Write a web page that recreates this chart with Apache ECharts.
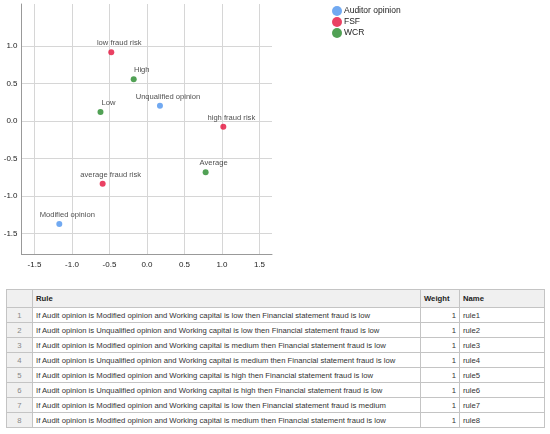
<!DOCTYPE html>
<html>
<head>
<meta charset="utf-8">
<script src="https://cdn.jsdelivr.net/npm/echarts@6/dist/echarts.min.js"></script>
<style>
  html, body { margin: 0; padding: 0; background: #fff; }
  #chart { position: absolute; left: 0; top: 0; width: 550px; height: 285px; }
  #rules {
    position: absolute; left: 6px; top: 289px;
    border-collapse: collapse; table-layout: fixed; width: 538px;
    font-family: "Liberation Sans", Arial, sans-serif; font-size: 7.7px; color: #333;
    -webkit-font-smoothing: antialiased;
  }
  #rules td, #rules th { border: 1px solid #c4c4c4; padding: 0 3px; white-space: nowrap; overflow: hidden; color: #333; }
  #rules th { height: 17px; background: #f0f0f0; text-align: left; font-weight: bold; color: #222; }
  #rules td { height: 14px; }
  #rules td.num { background: #f0f0f0; text-align: center; color: #888; }
  #rules td.w { text-align: right; }
</style>
</head>
<body>
<div id="chart"></div>
<table id="rules"></table>
<script>
// Scatter data
const auditorNames = ['Unqualified opinion', 'Modified opinion'];
const auditorX = [0.173, -1.169];
const auditorY = [0.204, -1.373];

const fsfNames = ['low fraud risk', 'high fraud risk', 'average fraud risk'];
const fsfX = [-0.476, 1.018, -0.591];
const fsfY = [0.916, -0.076, -0.836];

const wcrNames = ['High', 'Low', 'Average'];
const wcrX = [-0.177, -0.62, 0.782];
const wcrY = [0.556, 0.12, -0.684];

const xTicks = [-1.5, -1.0, -0.5, 0.0, 0.5, 1.0, 1.5];
const yTicks = [-1.5, -1.0, -0.5, 0.0, 0.5, 1.0];

// Rule table data
const ruleTexts = [
  'If Audit opinion is Modified opinion and Working capital is low then Financial statement fraud is low',
  'If Audit opinion is Unqualified opinion and Working capital is low then Financial statement fraud is low',
  'If Audit opinion is Modified opinion and Working capital is medium then Financial statement fraud is low',
  'If Audit opinion is Unqualified opinion and Working capital is medium then Financial statement fraud is low',
  'If Audit opinion is Modified opinion and Working capital is high then Financial statement fraud is low',
  'If Audit opinion is Unqualified opinion and Working capital is high then Financial statement fraud is low',
  'If Audit opinion is Modified opinion and Working capital is low then Financial statement fraud is medium',
  'If Audit opinion is Modified opinion and Working capital is medium then Financial statement fraud is low'
];
const ruleWeights = [1, 1, 1, 1, 1, 1, 1, 1];
const ruleNames = ['rule1', 'rule2', 'rule3', 'rule4', 'rule5', 'rule6', 'rule7', 'rule8'];

// Build the table
const table = document.getElementById('rules');
let html = '<colgroup><col style="width:26px"><col style="width:388px"><col style="width:39px"><col style="width:85px"></colgroup>';
html += '<tr><th></th><th>Rule</th><th>Weight</th><th>Name</th></tr>';
ruleTexts.forEach((text, i) => {
  html += '<tr><td class="num">' + (i + 1) + '</td><td>' + text + '</td><td class="w">' + ruleWeights[i] + '</td><td>' + ruleNames[i] + '</td></tr>';
});
table.innerHTML = html;

// Pair up names and coordinates for echarts
function toPoints (names, xs, ys) {
  return names.map((name, i) => ({ name: name, value: [xs[i], ys[i]] }));
}

function makeSeries (name, color, names, xs, ys) {
  return {
    name: name,
    type: 'scatter',
    symbolSize: 6,
    itemStyle: { color: color },
    label: {
      show: true,
      position: 'inside',
      offset: [8, -9],
      formatter: '{b}',
      fontFamily: 'Liberation Sans',
      fontSize: 7.6,
      color: '#222'
    },
    data: toPoints(names, xs, ys)
  };
}

const chart = echarts.init(document.getElementById('chart'));
const option = {
  animation: false,
  grid: { left: 21.5, top: 4, right: 278, bottom: 30.5, containLabel: false },
  legend: {
    orient: 'vertical',
    left: 327,
    top: 1,
    icon: 'circle',
    itemWidth: 10,
    itemHeight: 10,
    itemGap: 1,
    textStyle: { fontFamily: 'Liberation Sans', fontSize: 8.5, color: '#222', padding: [0, 0, 0, -3] },
    data: ['Auditor opinion', 'FSF', 'WCR']
  },
  xAxis: {
    type: 'value',
    min: -1.673,
    max: 1.667,
    axisLine: { show: true, onZero: false, lineStyle: { color: '#999' } },
    axisTick: { show: false, customValues: xTicks },
    axisLabel: {
      customValues: xTicks,
      formatter: v => v.toFixed(1),
      fontFamily: 'Liberation Sans', fontSize: 8, color: '#222', margin: 6
    },
    splitLine: { show: true, lineStyle: { color: '#d6d6d6' } }
  },
  yAxis: {
    type: 'value',
    min: -1.78,
    max: 1.56,
    axisLine: { show: true, onZero: false, lineStyle: { color: '#999' } },
    axisTick: { show: false, customValues: yTicks },
    axisLabel: {
      customValues: yTicks,
      formatter: v => v.toFixed(1),
      fontFamily: 'Liberation Sans', fontSize: 8, color: '#222', margin: 4
    },
    splitLine: { show: true, lineStyle: { color: '#d6d6d6' } }
  },
  series: [
    makeSeries('Auditor opinion', '#4d94ee', auditorNames, auditorX, auditorY),
    makeSeries('FSF', '#e5123c', fsfNames, fsfX, fsfY),
    makeSeries('WCR', '#258a2a', wcrNames, wcrX, wcrY)
  ]
};
chart.setOption(option);
</script>
</body>
</html>
